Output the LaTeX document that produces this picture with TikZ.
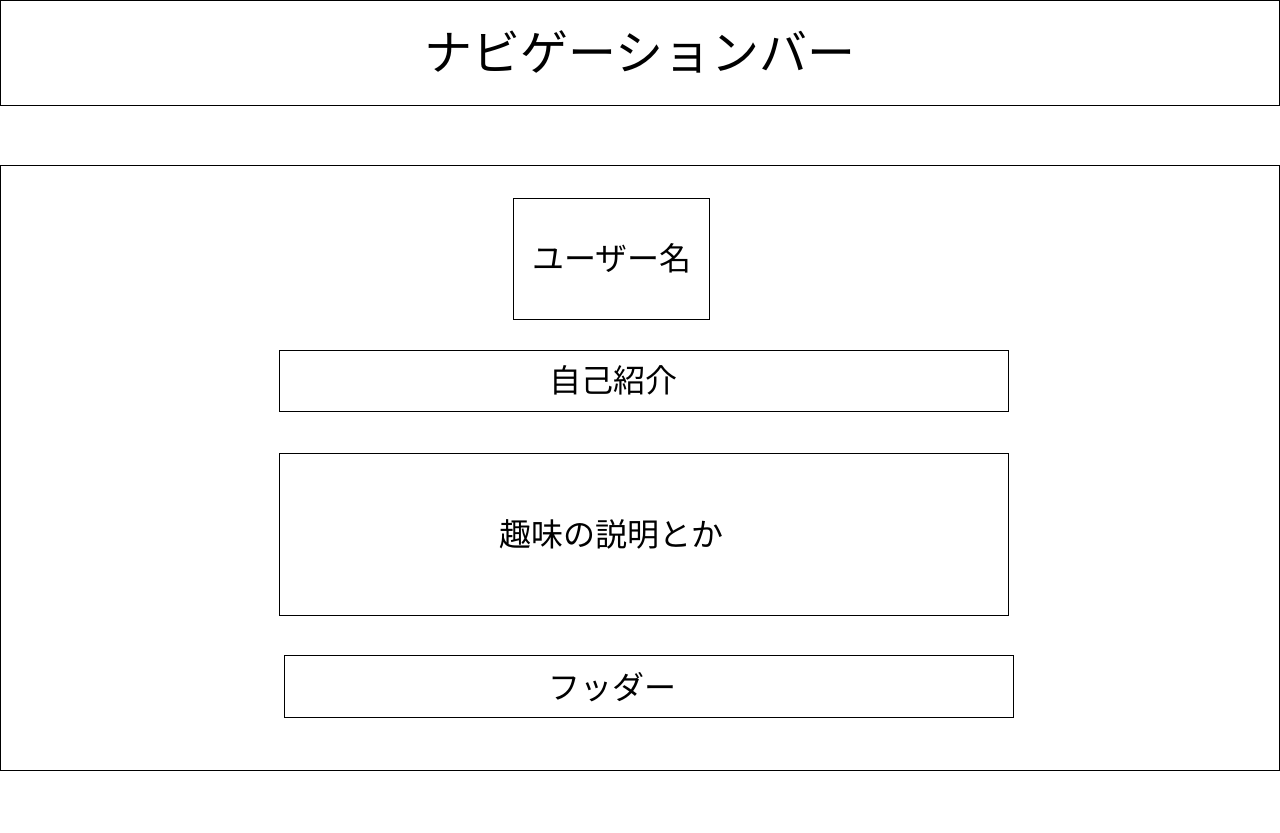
\documentclass[tikz,border=0pt]{standalone}
\usepackage{fontspec}
\newfontfamily\jp{Noto Sans CJK JP}
\tikzset{
  px/.style={x=0.75pt,y=-0.75pt},
  frame/.style={draw=black,line width=0.75pt},
  lbl/.style={font=\jp\fontsize{24pt}{28pt}\selectfont,inner sep=0pt,anchor=center},
  biglbl/.style={font=\jp\fontsize{36pt}{40pt}\selectfont,inner sep=0pt,anchor=center}
}
\begin{document}
\begin{tikzpicture}[px]
\useasboundingbox (0,0) rectangle (1280,832);
\fill[white] (0,0) rectangle (1280,832);
% boxes
\draw[frame] (0.5,0.5) rectangle (1279.5,105.5);
\draw[frame] (0.5,165.5) rectangle (1279.5,770.5);
\draw[frame] (513.5,198.5) rectangle (709.5,319.5);
\draw[frame] (279.5,350.5) rectangle (1008.5,411.5);
\draw[frame] (279.5,453.5) rectangle (1008.5,615.5);
\draw[frame] (284.5,655.5) rectangle (1013.5,717.5);
% labels
\node[biglbl] (nav) at (640,52) {ナビゲーションバー};
\node[lbl] (user) at (612,258) {ユーザー名};
\node[lbl] (intro) at (613,380) {自己紹介};
\node[lbl] (hobby) at (611,534) {趣味の説明とか};
\node[lbl] (foot) at (612,687) {フッダー};
\end{tikzpicture}
\end{document}
